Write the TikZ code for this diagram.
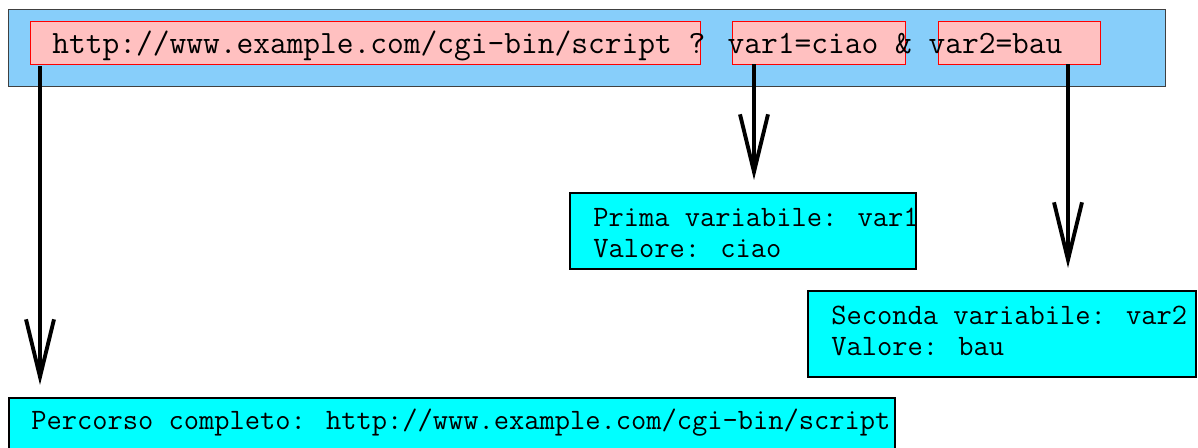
\documentclass[tikz,border=0pt]{standalone}
\usepackage{fontspec}
\usetikzlibrary{arrows.meta}
\definecolor{urlblue}{RGB}{135,206,250}
\definecolor{urlpink}{RGB}{255,192,192}
\definecolor{urlcyan}{RGB}{0,255,255}

\begin{document}
\begin{tikzpicture}[
  barra/.style={draw=black!75, fill=urlblue, line width=0.5pt, inner sep=0pt, minimum height=1.54cm},
  campo/.style={draw=red, fill=urlpink, line width=0.4pt, inner sep=0pt, minimum height=0.86cm},
  esito/.style={draw=black, fill=urlcyan, line width=1.1pt, inner sep=0pt},
  riga/.style={anchor=base west, inner sep=0pt, font=\ttfamily\fontsize{18.5}{21}\selectfont},
  testo/.style={anchor=base west, inner sep=0pt, align=left, font=\ttfamily\fontsize{16.85}{18.2}\selectfont},
  freccia/.style={line width=2.2pt, -{Straight Barb[length=1.15cm,width=0.56cm]}}]
  \useasboundingbox (0,0) rectangle (23.96,8.96);
  \node[barra, minimum width=23.14cm] (barra) at (11.73,8.01) {};
  \node[campo, minimum width=13.40cm] (script) at (7.30,8.11) {};
  \node[campo, minimum width=3.46cm] (var1) at (16.37,8.11) {};
  \node[campo, minimum width=3.24cm] (var2) at (20.38,8.11) {};
  \node[riga] (url) at (1.04,7.88) {http://www.example.com/cgi-bin/script ? var1=ciao \& var2=bau};
  \coordinate (p0) at (0.80,1.26);
  \coordinate (p1) at (15.08,5.36);
  \coordinate (p2) at (21.36,3.60);
  \draw[freccia] (p0 |- 0,7.64) -- (p0);
  \draw[freccia] (p1 |- var1.south) -- (p1);
  \draw[freccia] (p2 |- var2.south) -- (p2);
  \node[esito, minimum width=6.92cm, minimum height=1.52cm] (prima) at (14.86,4.34) {};
  \node[esito, minimum width=7.76cm, minimum height=1.72cm] (seconda) at (20.04,2.28) {};
  \node[esito, minimum width=17.72cm, minimum height=1.20cm] (percorso) at (9.04,0.40) {};
  \node[testo] (tprima) at (11.86,3.80) {Prima variabile: var1\\Valore: ciao};
  \node[testo] (tseconda) at (16.62,1.84) {Seconda variabile: var2\\Valore: bau};
  \node[testo] (tpercorso) at (0.62,0.36) {Percorso completo: http://www.example.com/cgi-bin/script};
\end{tikzpicture}
\end{document}
